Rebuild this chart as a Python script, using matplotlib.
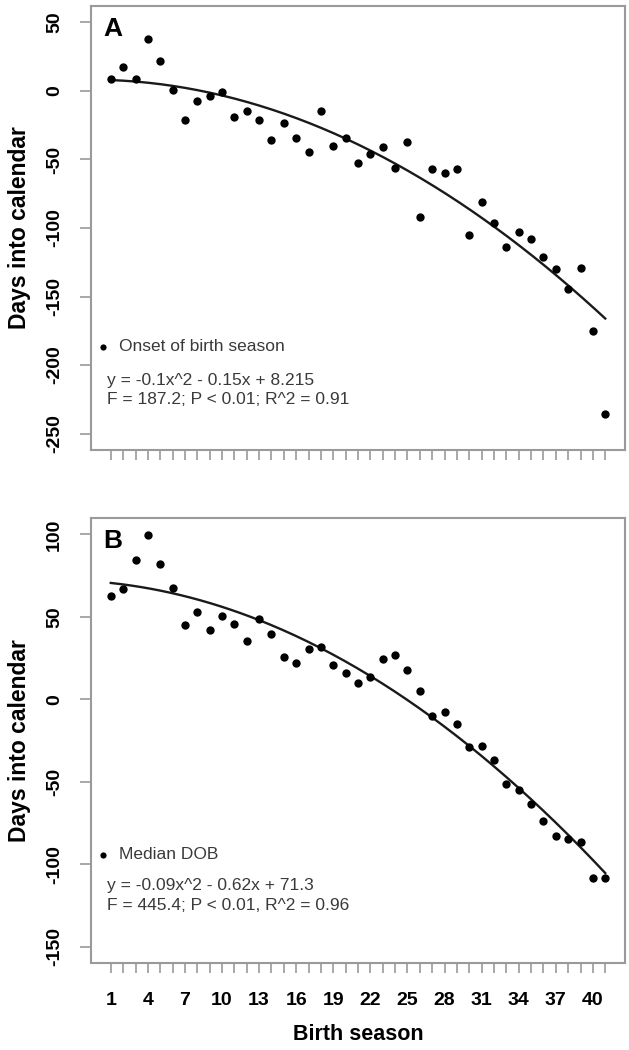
import matplotlib
matplotlib.use("Agg")
import matplotlib.pyplot as plt
import numpy as np

plt.rcParams["font.family"] = ["Liberation Sans", "DejaVu Sans"]

season = np.arange(1, 42)

# panel A: onset of birth season (days into calendar)
onset = [8.5, 17.4, 8.5, 37.6, 21.6, 0.7, -21, -7.3, -3.6, -0.5,
         -19, -14.3, -21, -36, -23.5, -34, -44.3, -14.3, -40, -34,
         -52.3, -46, -41, -56.2, -37.3, -92.3, -57.2, -60, -57.2, -105,
         -81, -96, -114, -102.7, -108, -121, -130, -144.4, -129, -175,
         -235.7]
# panel B: median date of birth
median_dob = [62.4, 67, 84.3, 99.8, 82.3, 67.4, 45, 53, 41.9, 50.5,
              45.5, 35.6, 48.7, 39.4, 25.8, 22.1, 30.4, 31.6, 20.7, 15.9,
              9.9, 13.5, 24.6, 26.6, 17.7, 4.8, -10.3, -8, -15.1, -28.8,
              -28.2, -36.8, -51.1, -55, -63.6, -73.9, -82.9, -84.7, -86.8, -108.5,
              -108.5]

# quadratic fits as printed on the figure
coef_a = [-0.1, -0.15, 8.215]
coef_b = [-0.09, -0.62, 71.3]

yticks_a = [50, 0, -50, -100, -150, -200, -250]
yticks_b = [100, 50, 0, -50, -100, -150]

W, H = 629, 1050
fig = plt.figure(figsize=(W / 100, H / 100), dpi=100)
axA = fig.add_axes([91 / W, 1 - 450 / H, 534 / W, 444 / H])
axB = fig.add_axes([91 / W, 1 - 963 / H, 534 / W, 445 / H])

grey = "#9a9a9a"
tick_font = dict(fontsize=14, fontweight="bold")


def panel(ax, y, coef, lim, yticks, letter, label, eq, stats, ypos, show_x):
    ax.scatter(season, y, s=36, color="black", zorder=3, linewidths=0)
    xs = np.linspace(1, 41, 200)
    ax.plot(xs, np.polyval(coef, xs), color="#1a1a1a", lw=1.7)
    pad = 0.04 * (lim[1] - lim[0])
    ax.set_ylim(lim[0] - pad, lim[1] + pad)
    ax.set_xlim(1 - 1.6, 41 + 1.6)
    ax.set_yticks(yticks)
    ax.set_yticklabels([str(v) for v in yticks], rotation=90, va="center", **tick_font)
    ax.set_xticks(season)
    if show_x:
        ax.set_xticklabels([str(v) if (v - 1) % 3 == 0 else "" for v in season], **tick_font)
    else:
        ax.set_xticklabels([])
    ax.tick_params(axis="y", length=8, width=1.2, color=grey, pad=12)
    ax.tick_params(axis="x", length=7, width=1.2, color=grey, pad=14)
    for sp in ax.spines.values():
        sp.set_color(grey)
        sp.set_linewidth(1.5)
    ax.set_ylabel("Days into calendar", fontsize=16.5, fontweight="bold", labelpad=11)
    ax.text(0.023, 0.975, letter, transform=ax.transAxes, fontsize=19,
            fontweight="bold", va="top", ha="left")
    ax.scatter([0.35], [ypos[0]], s=20, color="black", linewidths=0)
    txt = dict(fontsize=12.5, color="#3a3a3a", va="center", ha="left")
    ax.text(1.65, ypos[0], label, **txt)
    ax.text(0.68, ypos[1], eq, **txt)
    ax.text(0.68, ypos[2], stats, **txt)


panel(axA, onset, coef_a, (-250, 50), yticks_a, "A", "Onset of birth season",
      "y = -0.1x^2 - 0.15x + 8.215", "F = 187.2; P < 0.01; R^2 = 0.91",
      (-186.8, -211, -225.5), False)
panel(axB, median_dob, coef_b, (-150, 100), yticks_b, "B", "Median DOB",
      "y = -0.09x^2 - 0.62x + 71.3", "F = 445.4; P < 0.01, R^2 = 0.96",
      (-94.2, -112.8, -125), True)
axB.set_xlabel("Birth season", fontsize=15.5, fontweight="bold", labelpad=11)

fig.savefig("out.png", dpi=100)
